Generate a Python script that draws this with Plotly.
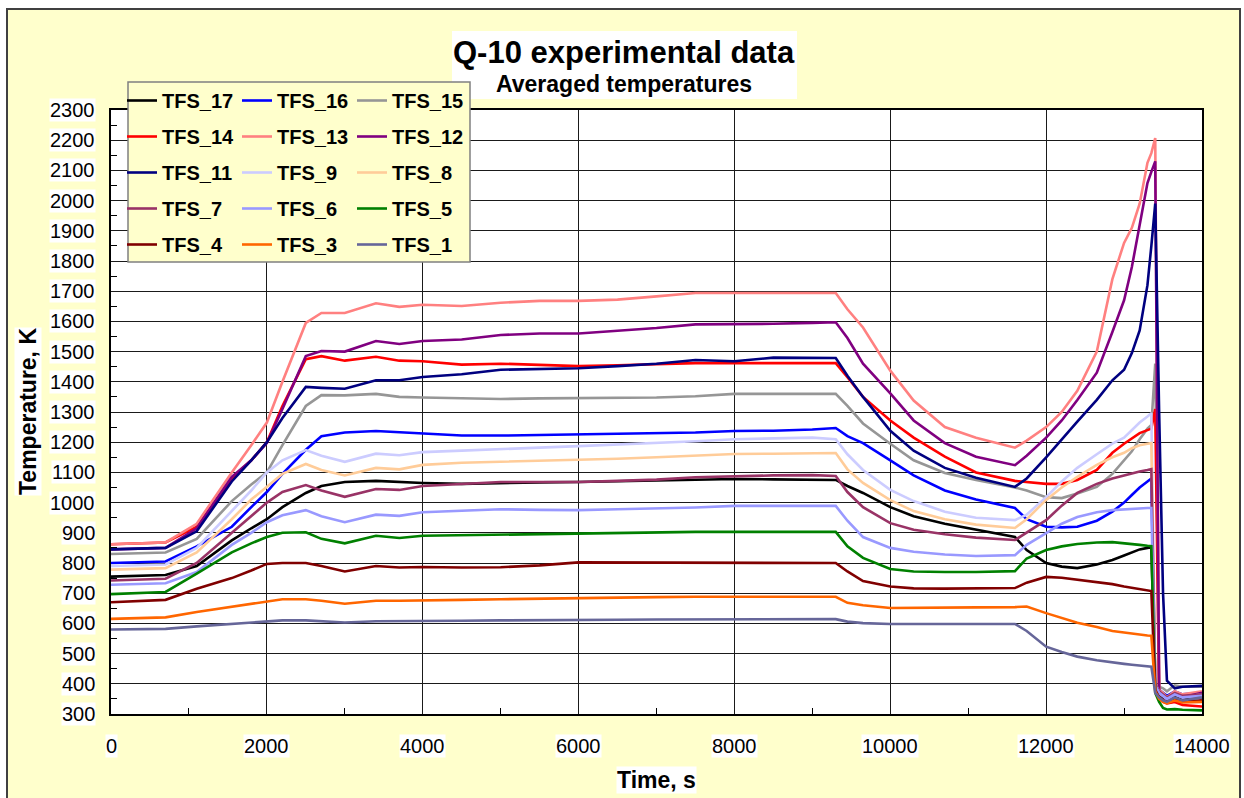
import plotly.graph_objects as go

# ---------------- data ----------------
TIME_S = [0, 700, 1100, 1550, 1800, 2000, 2200, 2500, 2700, 3000, 3400, 3700, 4000,
          4500, 5000, 5500, 6000, 6500, 7000, 7500, 8000, 8500, 9000, 9300, 9450,
          9650, 10000, 10300, 10700, 11100, 11600, 11750, 12000, 12200, 12400, 12650,
          12850, 13000, 13100, 13200, 13300, 13350, 13400, 13450, 13500, 13550, 13650,
          13750, 14000]

TFS_17 = [755, 760, 790, 875, 915, 945, 985, 1032, 1055, 1068, 1072, 1068, 1065,
          1062, 1065, 1067, 1068, 1070, 1072, 1075, 1078, 1077, 1076, 1075, 1055,
          1032, 985, 955, 930, 910, 886, 843, 800, 788, 783, 795,
          810, 825, 835, 845, 850, 852, 390, 365, 355, 350, 360, 350, 355]
TFS_16 = [800, 805, 855, 920, 985, 1035, 1095, 1175, 1220, 1232, 1237, 1233, 1230,
          1222, 1222, 1224, 1224, 1226, 1228, 1232, 1237, 1238, 1242, 1247, 1220,
          1197, 1140, 1090, 1040, 1010, 982, 945, 920, 918, 920, 940,
          970, 1000, 1025, 1050, 1070, 1080, 400, 380, 370, 360, 375, 365, 370]
TFS_15 = [830, 835, 880, 1005, 1060, 1100, 1190, 1320, 1356, 1355, 1360, 1350, 1348,
          1345, 1343, 1345, 1346, 1346, 1348, 1352, 1360, 1360, 1360, 1360, 1320,
          1262, 1195, 1140, 1098, 1075, 1050, 1040, 1018, 1015, 1030, 1052,
          1095, 1140, 1170, 1210, 1245, 1257, 1460, 390, 385, 375, 395, 390, 390]
TFS_14 = [862, 868, 920, 1080, 1140, 1200, 1320, 1475, 1485, 1470, 1483, 1470, 1468,
          1457, 1460, 1455, 1452, 1455, 1458, 1462, 1462, 1462, 1462, 1462, 1415,
          1350, 1272, 1215, 1152, 1100, 1072, 1068, 1062, 1062, 1075, 1108,
          1165, 1195, 1213, 1230, 1240, 1245, 1310, 350, 340, 335, 340, 330, 325]
TFS_13 = [862, 868, 930, 1100, 1190, 1265, 1400, 1595, 1628, 1628, 1660, 1648, 1655,
          1651, 1662, 1668, 1668, 1672, 1683, 1694, 1694, 1694, 1694, 1694, 1640,
          1580, 1437, 1338, 1250, 1215, 1182, 1205, 1250, 1300, 1370, 1500,
          1740, 1860, 1910, 1990, 2125, 2157, 2207, 380, 370, 355, 375, 365, 375]
TFS_12 = [845, 850, 915, 1085, 1140, 1197, 1310, 1485, 1502, 1500, 1535, 1525, 1535,
          1540, 1555, 1560, 1560, 1568, 1578, 1590, 1590, 1592, 1595, 1597, 1545,
          1460, 1362, 1272, 1197, 1152, 1124, 1155, 1215, 1272, 1340, 1430,
          1565, 1670, 1780, 1915, 2058, 2095, 2130, 370, 360, 345, 365, 355, 370]
TFS_11 = [845, 850, 905, 1070, 1140, 1200, 1280, 1383, 1380, 1377, 1405, 1405, 1416,
          1425, 1440, 1443, 1445, 1452, 1460, 1472, 1468, 1480, 1480, 1479, 1420,
          1350, 1238, 1172, 1115, 1082, 1052, 1080, 1150, 1210, 1268, 1340,
          1405, 1440, 1495, 1570, 1720, 1850, 1990, 1300, 700, 410, 385, 390, 393]
TFS_9 = [790, 795, 850, 970, 1040, 1100, 1140, 1174, 1155, 1135, 1162, 1157, 1167,
         1172, 1178, 1182, 1187, 1192, 1197, 1203, 1210, 1213, 1215, 1210, 1160,
         1108, 1042, 1005, 970, 950, 942, 960, 1018, 1070, 1115, 1160,
         1195, 1215, 1240, 1265, 1285, 1296, 400, 370, 360, 350, 365, 355, 365]
TFS_8 = [778, 783, 835, 945, 1010, 1052, 1095, 1128, 1108, 1090, 1115, 1110, 1125,
         1132, 1135, 1138, 1141, 1145, 1150, 1156, 1161, 1162, 1164, 1164, 1110,
         1065, 1008, 972, 945, 927, 916, 945, 1009, 1050, 1085, 1125,
         1150, 1165, 1180, 1190, 1195, 1197, 400, 375, 365, 355, 370, 358, 360]
TFS_7 = [742, 748, 800, 900, 955, 1000, 1035, 1058, 1040, 1019, 1045, 1042, 1055,
         1062, 1068, 1068, 1068, 1072, 1076, 1084, 1088, 1090, 1091, 1088, 1035,
         985, 932, 910, 895, 884, 876, 900, 942, 990, 1032, 1062,
         1080, 1090, 1097, 1103, 1108, 1111, 400, 375, 365, 355, 370, 360, 365]
TFS_6 = [728, 733, 770, 860, 900, 935, 958, 975, 955, 935, 960, 956, 968,
         972, 978, 976, 975, 978, 980, 984, 989, 989, 989, 989, 940,
         886, 850, 837, 828, 823, 826, 860, 899, 930, 952, 968,
         975, 978, 980, 981, 982, 982, 395, 370, 360, 350, 365, 355, 360]
TFS_5 = [697, 704, 765, 835, 865, 886, 900, 902, 880, 865, 890, 883, 890,
         892, 894, 895, 896, 899, 901, 903, 903, 903, 903, 903, 855,
         817, 780, 772, 770, 770, 773, 815, 843, 855, 863, 868,
         869, 866, 862, 860, 857, 856, 370, 340, 320, 315, 316, 314, 312]
TFS_4 = [670, 678, 715, 750, 775, 797, 800, 800, 790, 772, 790, 785, 787,
         785, 786, 792, 802, 802, 801, 800, 800, 800, 800, 800, 772,
         740, 722, 716, 715, 716, 717, 735, 754, 751, 745, 738,
         730, 722, 718, 713, 709, 707, 380, 355, 345, 340, 350, 340, 345]
TFS_3 = [615, 620, 638, 655, 665, 674, 680, 680, 675, 665, 675, 675, 677,
         678, 680, 682, 685, 686, 687, 688, 688, 688, 688, 688, 668,
         660, 651, 652, 654, 653, 654, 656, 634, 618, 602, 588,
         575, 570, 566, 563, 560, 559, 375, 350, 340, 335, 345, 338, 340]
TFS_1 = [580, 582, 590, 598, 603, 605, 610, 610, 608, 603, 607, 607, 608,
         609, 610, 610, 611, 612, 613, 613, 614, 614, 614, 614, 606,
         601, 598, 598, 598, 598, 598, 575, 523, 505, 490, 478,
         470, 466, 463, 460, 458, 457, 370, 355, 345, 340, 355, 345, 355]

SERIES_NAMES = ["TFS_17", "TFS_16", "TFS_15", "TFS_14", "TFS_13", "TFS_12", "TFS_11",
                "TFS_9", "TFS_8", "TFS_7", "TFS_6", "TFS_5", "TFS_4", "TFS_3", "TFS_1"]
SERIES_VALUES = [TFS_17, TFS_16, TFS_15, TFS_14, TFS_13, TFS_12, TFS_11,
                 TFS_9, TFS_8, TFS_7, TFS_6, TFS_5, TFS_4, TFS_3, TFS_1]
SERIES_COLORS = ["#000000", "#0000FF", "#969696", "#FF0000", "#FF8080", "#800080", "#000080",
                 "#CCCCFF", "#FFCC99", "#993366", "#9999FF", "#008000", "#800000", "#FF6600", "#666699"]

Y_TICKS = list(range(300, 2301, 100))
X_TICKS = list(range(0, 14001, 2000))

TITLE = "Q-10 experimental data"
SUBTITLE = "Averaged temperatures"
X_TITLE = "Time, s"
Y_TITLE = "Temperature, K"

# ---------------- layout geometry ----------------
W, H = 1244, 798
ML, MR, MT, MB = 111, 42, 110, 84
PW = W - ML - MR
PH = H - MT - MB
FONT = "Liberation Sans, Arial, Helvetica, sans-serif"


def px(x):
    return (x - ML) / PW


def py(y):
    return (H - MB - y) / PH


fig = go.Figure()
legend_ids = ["legend", "legend2", "legend3"]
for i, (name, vals, color) in enumerate(zip(SERIES_NAMES, SERIES_VALUES, SERIES_COLORS)):
    fig.add_trace(go.Scatter(
        x=TIME_S, y=vals, mode="lines", name=name,
        line=dict(color=color, width=2.6),
        legend=legend_ids[i % 3], legendgroup=name,
        hoverinfo="skip",
    ))

legend_common = dict(
    bgcolor="rgba(0,0,0,0)", borderwidth=0, orientation="v",
    font=dict(family=FONT, size=20, color="#000000", weight="bold"),
    traceorder="grouped", tracegroupgap=7, itemwidth=30,
    xanchor="left", yanchor="top", y=py(81),
)

annotations = []
for v in Y_TICKS:
    annotations.append(dict(
        x=0, xref="paper", y=v, yref="y", text=str(v), showarrow=False,
        xanchor="right", yanchor="middle", xshift=-15,
        font=dict(family=FONT, size=20, color="#000000"),
        bgcolor="#FFFFFF", borderpad=0,
    ))
for v in X_TICKS:
    annotations.append(dict(
        x=v, xref="x", y=0, yref="paper", text=str(v), showarrow=False,
        xanchor="center", yanchor="top", yshift=-20,
        font=dict(family=FONT, size=20, color="#000000"),
        bgcolor="#FFFFFF", borderpad=0,
    ))
annotations += [
    dict(x=0, xref="paper", y=0.5, yref="paper", xshift=-83, text=Y_TITLE,
         textangle=-90, showarrow=False, xanchor="center", yanchor="middle",
         font=dict(family=FONT, size=23, color="#000000", weight="bold"),
         bgcolor="#FFFFFF", borderpad=0),
    dict(x=0.5, xref="paper", y=0, yref="paper", yshift=-66, text=X_TITLE,
         showarrow=False, xanchor="center", yanchor="middle",
         font=dict(family=FONT, size=23, color="#000000", weight="bold"),
         bgcolor="#FFFFFF", borderpad=0),
    dict(x=px(624), xref="paper", y=py(52), yref="paper", text=TITLE,
         showarrow=False, xanchor="center", yanchor="middle",
         font=dict(family=FONT, size=31, color="#000000", weight="bold")),
    dict(x=px(624), xref="paper", y=py(84), yref="paper", text=SUBTITLE,
         showarrow=False, xanchor="center", yanchor="middle",
         font=dict(family=FONT, size=23, color="#000000", weight="bold")),
]

shapes = [
    dict(type="rect", xref="paper", yref="paper", x0=px(7), x1=px(1240), y0=py(9), y1=py(810),
         fillcolor="#FFFFCC", line=dict(color="#404040", width=2), layer="below"),
    dict(type="rect", xref="paper", yref="paper", x0=0, x1=1, y0=0, y1=1,
         fillcolor="#FFFFFF", line=dict(width=0), layer="below"),
    dict(type="rect", xref="paper", yref="paper", x0=px(452), x1=px(797), y0=py(31), y1=py(99),
         fillcolor="#FFFFFF", line=dict(width=0), layer="below"),
    dict(type="rect", xref="paper", yref="paper", x0=px(128), x1=px(470), y0=py(82), y1=py(262),
         fillcolor="#FFFFCC", line=dict(color="#808080", width=1.5), layer="above"),
]

axis_common = dict(
    showgrid=True, gridcolor="#1a1a1a", gridwidth=1,
    showline=True, linecolor="#000000", linewidth=1.5, mirror=True,
    zeroline=False, showticklabels=False, ticks="",
)

fig.update_layout(
    width=W, height=H,
    margin=dict(l=ML, r=MR, t=MT, b=MB, pad=0),
    paper_bgcolor="#FFFFFF", plot_bgcolor="#FFFFFF",
    font=dict(family=FONT, color="#000000"),
    xaxis=dict(range=[0, 14000], dtick=2000, tick0=0,
               minor=dict(dtick=1000, ticks="inside", ticklen=6, tickcolor="#000000", showgrid=False),
               **axis_common),
    yaxis=dict(range=[300, 2300], dtick=100, tick0=300,
               minor=dict(dtick=50, ticks="inside", ticklen=6, tickcolor="#000000", showgrid=False),
               **axis_common),
    legend=dict(x=px(122), **legend_common),
    legend2=dict(x=px(237), **legend_common),
    legend3=dict(x=px(352), **legend_common),
    annotations=annotations,
    shapes=shapes,
    hovermode=False,
)

fig.write_html("out.html")
